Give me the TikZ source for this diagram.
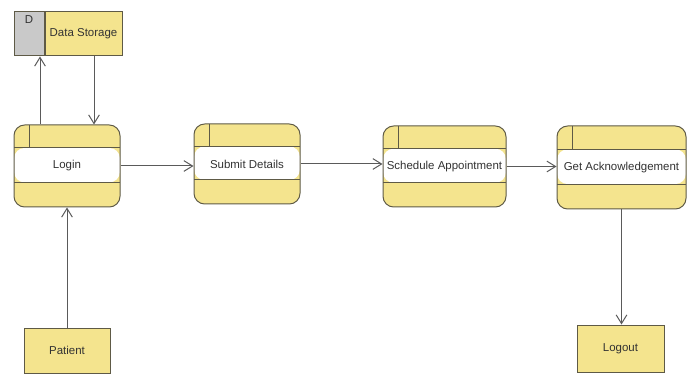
\documentclass[tikz,border=0pt]{standalone}
\usepackage{fontspec}
\setmainfont{Liberation Sans}
\usetikzlibrary{positioning,arrows.meta,calc}
\definecolor{ink}{HTML}{333333}
\definecolor{edge}{HTML}{5E5A46}
\definecolor{wire}{HTML}{5A5A5A}
\definecolor{yfill}{HTML}{F4E48E}
\definecolor{gfill}{HTML}{C9C9C9}

\begin{document}
\begin{tikzpicture}[
    x=0.75pt, y=-0.75pt,
    font=\fontsize{8.6}{10}\selectfont, text=ink,
    >={Straight Barb[length=6.5pt,width=8pt]},
    box/.style={draw=edge, line width=0.75pt, fill=yfill, inner sep=0pt, align=center},
    proc/.style={box, rounded corners=8pt,
      path picture={
        \fill[white] ($(path picture bounding box.north west)!0.28!(path picture bounding box.south west)$)
          rectangle ($(path picture bounding box.north east)!0.70!(path picture bounding box.south east)$);
        \draw[edge, line width=0.75pt]
          ($(path picture bounding box.north west)!0.28!(path picture bounding box.south west)$)
          -- ($(path picture bounding box.north east)!0.28!(path picture bounding box.south east)$);
        \draw[edge, line width=0.75pt]
          ($(path picture bounding box.north west)!0.70!(path picture bounding box.south west)$)
          -- ($(path picture bounding box.north east)!0.70!(path picture bounding box.south east)$);
        \draw[edge, line width=0.75pt]
          ($(path picture bounding box.north west)+(15,0)$)
          -- ($(path picture bounding box.north west)!0.28!(path picture bounding box.south west)+(15,0)$);
      }},
    ent/.style={box},
    arr/.style={->, line width=0.75pt, draw=wire},
  ]
  \useasboundingbox (0,0) rectangle (689,374);

  % ---- data store
  \node[box, fill=gfill, minimum width=22.5pt, minimum height=33pt] (dsid) at (29,34) {};
  \node[anchor=north, inner sep=0pt] (dsd) at ($(dsid.north)+(0,4)$) {D};
  \node[box, minimum width=57.75pt, minimum height=33pt, right=0pt of dsid] (ds) {Data Storage};

  % ---- processes
  \node[proc, minimum width=79.5pt, minimum height=61.5pt] (login) at (67,166) {Login};
  \node[proc, minimum width=79.5pt, minimum height=60pt] (submit) at (247,164) {Submit Details};
  \node[proc, minimum width=92.25pt, minimum height=60.75pt] (sched) at (444.5,166.5) {Schedule Appointment};
  \node[proc, minimum width=96.75pt, minimum height=62.25pt] (getack) at (621.5,167.5) {Get Acknowledgement};

  % ---- external entities
  \node[ent, minimum width=64.5pt, minimum height=33.75pt] (patient) at (67,350.5) {Patient};
  \node[ent, minimum width=65.25pt, minimum height=35.25pt] (logout) at (620.5,348.5) {Logout};

  % ---- flows
  \coordinate (loginup) at ($(login.north)+(-27,0)$);
  \coordinate (logindn) at ($(login.north)+(27,0)$);
  \draw[arr] (loginup) -- (loginup |- ds.south);
  \draw[arr] (logindn |- ds.south) -- (logindn);
  \draw[arr] (patient.north) -- (login.south);
  \draw[arr] (login.east) -- (login.east -| submit.west);
  \draw[arr] (submit.east) -- (submit.east -| sched.west);
  \draw[arr] (sched.east) -- (sched.east -| getack.west);
  \draw[arr] (getack.south) -- (getack.south |- logout.north);
\end{tikzpicture}
\end{document}
